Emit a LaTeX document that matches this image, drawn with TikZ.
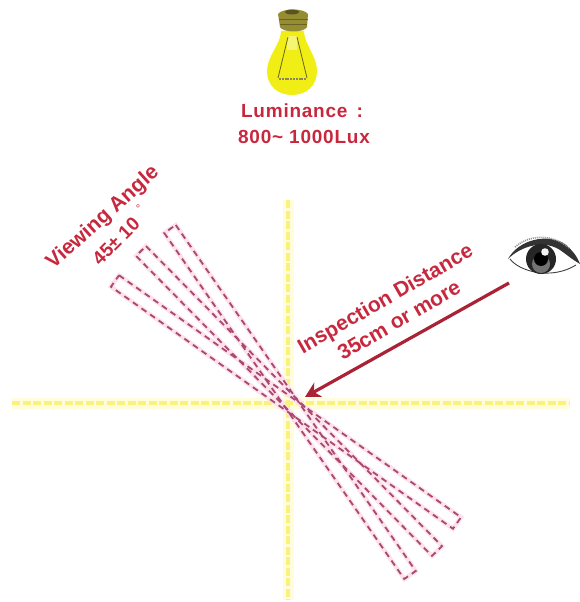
\documentclass[tikz,border=0pt]{standalone}
\usepackage{fontspec}
\setmainfont{Liberation Sans}
\usetikzlibrary{calc,arrows.meta}
\definecolor{lbl}{RGB}{200,40,62}
\definecolor{bandc}{RGB}{170,72,112}
\definecolor{bandglow}{RGB}{253,226,236}
\definecolor{axis}{RGB}{250,242,125}
\definecolor{axisglow}{RGB}{255,253,220}
\definecolor{bulb}{RGB}{240,238,20}
\definecolor{base}{RGB}{150,140,50}
\tikzset{
  x=1pt,y=-1pt,
  lbltext/.style={text=lbl,font=\fontsize{19}{22}\selectfont\bfseries\addfontfeature{LetterSpace=4},inner sep=0pt},
  rottext/.style={text=lbl,font=\fontsize{21}{24}\selectfont\bfseries,inner sep=0pt},
  axisglowline/.style={draw=axisglow,line width=11pt},
  axisline/.style={draw=axis,line width=4pt,dash pattern=on 8pt off 2.5pt},
  bandglowline/.style={draw=bandglow,line width=4.5pt},
  bandline/.style={draw=bandc,line width=1.8pt,dash pattern=on 6pt off 4.5pt},
  pointer/.style={draw=lbl!85!black,line width=3.2pt,-{Stealth[length=15pt,width=16pt]}},
  filament/.style={draw=base!70!black,line width=0.8pt},
}
\begin{document}
\begin{tikzpicture}
\useasboundingbox (0,0) rectangle (580,602);
% axes
\coordinate (hl) at (12,403); \coordinate (hr) at (570,403);
\coordinate (vt) at (288,200); \coordinate (vb) at (288,600);
\draw[axisglowline] (hl) -- (hr);
\draw[axisglowline] (vt) -- (vb);
\draw[axisline] (hl) -- (hr);
\draw[axisline] (vt) -- (vb);
% viewing bands
\foreach \ax/\ay/\bx/\by in {115/281/457/523,141/251/437/551,170/229/410/575}{
  \coordinate (a) at (\ax,\ay); \coordinate (b) at (\bx,\by);
  \coordinate (a1) at ($(a)!7pt!90:(b)$);
  \coordinate (a2) at ($(a)!7pt!-90:(b)$);
  \coordinate (b1) at ($(b)!7pt!-90:(a)$);
  \coordinate (b2) at ($(b)!7pt!90:(a)$);
  \draw[bandglowline] (a1) -- (b1) -- (b2) -- (a2) -- cycle;
}
\foreach \ax/\ay/\bx/\by in {115/281/457/523,141/251/437/551,170/229/410/575}{
  \coordinate (a) at (\ax,\ay); \coordinate (b) at (\bx,\by);
  \coordinate (a1) at ($(a)!7pt!90:(b)$);
  \coordinate (a2) at ($(a)!7pt!-90:(b)$);
  \coordinate (b1) at ($(b)!7pt!-90:(a)$);
  \coordinate (b2) at ($(b)!7pt!90:(a)$);
  \draw[bandline] (a1) -- (b1) -- (b2) -- (a2) -- cycle;
}
% bulb
\fill[bulb] (281,31) -- (304,31)
  .. controls (304,44) and (317,56) .. (317,71)
  .. controls (317,86) and (306,95) .. (292,95)
  .. controls (278,95) and (267,86) .. (267,71)
  .. controls (267,56) and (281,44) .. (281,31) -- cycle;
\fill[base] (278,14) .. controls (282,8) and (304,8) .. (308,14)
  -- (307,27) .. controls (304,33) and (283,33) .. (280,27) -- cycle;
\fill[base!60!black] (292,12) ellipse (7pt and 2.5pt);
\draw[base!70!black,line width=0.6pt] (279,19) -- (308,19) (280,24) -- (307,24);
\fill[bulb!60!white] (287,36) rectangle (297,50);
\draw[filament] (288,37) -- (278,78);
\draw[filament] (297,37) -- (307,78);
\draw[base!50!gray,line width=2.4pt,dash pattern=on 2pt off 0.8pt] (279,79) -- (306,79);
% bulb label
\node[lbltext] (lum) at (302,111) {Luminance\hspace{3pt} :};
\node[lbltext] (lux) at (304,137) {800\textasciitilde{} 1000Lux};
% rotated labels
\node[rottext,rotate=42] (va) at (103,218) {Viewing Angle};
\node[rottext,rotate=45,font=\fontsize{19}{22}\selectfont\bfseries] (ang) at (116,241) {45± 10};
\node[text=lbl,font=\fontsize{11}{12}\selectfont,inner sep=0pt] (deg) at (138,209) {°};
\node[rottext,rotate=30] (dist) at (386,300) {Inspection Distance};
\node[rottext,rotate=30] (cm) at (399,320) {35cm or more};
% eye
\fill[black!80] (508,259) .. controls (518,240) and (548,232) .. (566,245)
  .. controls (572,250) and (577,256) .. (580,264)
  .. controls (570,258) and (566,254) .. (560,250)
  .. controls (545,240) and (522,245) .. (508,259) -- cycle;
\fill[white] (512,258) .. controls (525,245) and (550,242) .. (575,264)
  .. controls (560,276) and (525,278) .. (512,258) -- cycle;
\draw[black!75,line width=0.9pt] (510,259) .. controls (520,272) and (552,280) .. (576,265);
\draw[black!45,line width=1.6pt,dash pattern=on 1pt off 1pt] (515,247) .. controls (530,234) and (553,234) .. (569,248);
\fill[black!85] (541,259) circle (15pt);
\fill[black!55] (541,264) circle (9pt);
\fill[black] (541,259) circle (7pt);
\fill[white!90!gray] (545,252) circle (3.8pt);
% arrow
\coordinate (eyeout) at (509,283);
\coordinate (target) at (305,397);
\draw[pointer] (eyeout) -- (target);
\end{tikzpicture}
\end{document}
